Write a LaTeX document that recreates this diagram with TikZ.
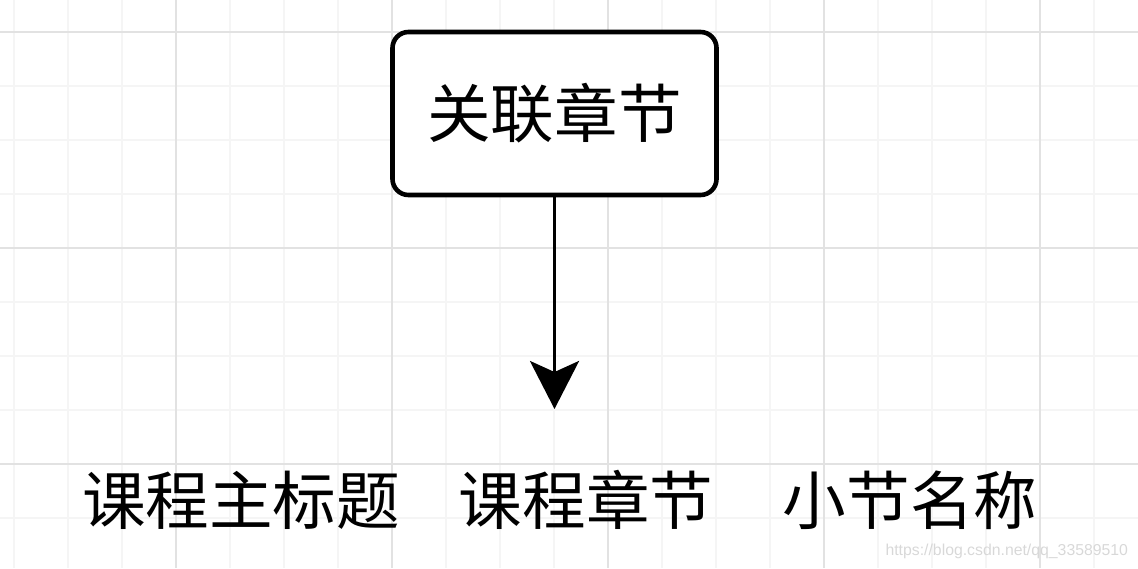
\documentclass[tikz,border=0pt]{standalone}
\usepackage{fontspec}
\setmainfont{Noto Sans CJK SC}
\newfontfamily\markfont{Liberation Sans}
\usetikzlibrary{arrows.meta}
\definecolor{gridminor}{HTML}{F5F5F5}
\definecolor{gridmajor}{HTML}{E2E2E2}
\definecolor{markgray}{HTML}{D8D8D8}
\begin{document}
\begin{tikzpicture}[x=0.5pt,y=-0.5pt,every node/.style={inner sep=0pt,outer sep=0pt,font=\fontsize{31.8pt}{36pt}\selectfont},
  chapbox/.style={draw,line width=2.3pt,rounded corners=8pt,minimum width=162pt,minimum height=81.5pt},
  >={Stealth[length=24pt,width=24.5pt,inset=5.5pt]}]
\useasboundingbox (0,0) rectangle (1138,568);
% grid
\foreach \gx in {14,68,...,1138} \draw[gridminor,line width=0.6pt] (\gx,0) -- (\gx,568);
\foreach \gy in {32,86,...,568} \draw[gridminor,line width=0.6pt] (0,\gy) -- (1138,\gy);
\foreach \gx in {176,392,...,1138} \draw[gridmajor,line width=0.6pt] (\gx,0) -- (\gx,568);
\foreach \gy in {32,248,464} \draw[gridmajor,line width=0.6pt] (0,\gy) -- (1138,\gy);
% box and arrow
\node[chapbox,fill=white] (chap) at (554.5,113.5) {关联章节};
\coordinate (tip) at (554.5,409);
\draw[->,line width=1.8pt] (chap.south) -- (tip);
% fields
\node (title) at (241,500) {课程主标题};
\node (chapter) at (586,500) {课程章节};
\node (section) at (910,500) {小节名称};
\node[anchor=base east,font=\markfont\fontsize{7.9pt}{10pt}\selectfont,text=markgray] (mark) at (1128,555) {https://blog.csdn.net/qq\_33589510};
\end{tikzpicture}
\end{document}
